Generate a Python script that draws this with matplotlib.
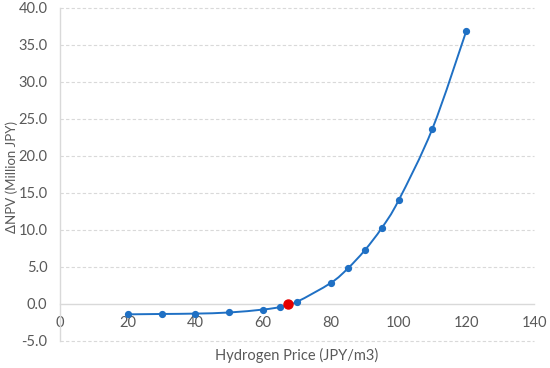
import matplotlib
matplotlib.use('Agg')
import matplotlib.pyplot as plt
import numpy as np
from matplotlib.path import Path
from matplotlib.patches import PathPatch

# data
price = [20, 30, 40, 50, 60, 65, 70, 80, 85, 90, 95, 100, 110, 120]
delta_npv = [-1.4, -1.35, -1.3, -1.15, -0.75, -0.4, 0.3, 2.85, 4.8, 7.25, 10.25, 14.0, 23.7, 36.9]
breakeven_price = [67.4]
breakeven_npv = [0.0]

x_ticks = [0, 20, 40, 60, 80, 100, 120, 140]
y_ticks = [-5, 0, 5, 10, 15, 20, 25, 30, 35, 40]

BLUE = '#1f70c4'
GRAY = '#595959'
GRID = '#d9d9d9'


def smooth_path(xs, ys):
    # Excel style smoothed line: cubic bezier segments through each point
    p = np.column_stack([xs, ys]).astype(float)
    ext = np.vstack([p[0], p, p[-1]])
    verts = [p[0]]
    codes = [Path.MOVETO]
    for i in range(1, len(ext) - 2):
        c1 = ext[i] + (ext[i + 1] - ext[i - 1]) / 6
        c2 = ext[i + 1] - (ext[i + 2] - ext[i]) / 6
        verts += [c1, c2, ext[i + 1]]
        codes += [Path.CURVE4] * 3
    return Path(verts, codes)


plt.rcParams['font.family'] = ['Lato', 'DejaVu Sans']

fig = plt.figure(figsize=(5.5, 3.68), dpi=100)
ax = fig.add_axes([0.109, 0.0734, 0.862, 0.905])

ax.set_xlim(0, 140)
ax.set_ylim(-5, 40)
ax.set_xticks(x_ticks)
ax.set_yticks(y_ticks)
ax.set_yticklabels([f'{v:.1f}' for v in y_ticks])

for v in y_ticks:
    if v != 0:
        ax.axhline(v, color=GRID, lw=0.8, ls=(0, (3, 2)), zorder=0, clip_on=False)

for s in ['top', 'right']:
    ax.spines[s].set_visible(False)
ax.spines['bottom'].set_position(('data', 0))
ax.spines['bottom'].set_color(GRID)
ax.spines['left'].set_color(GRID)
ax.spines['bottom'].set_linewidth(1.0)
ax.spines['left'].set_linewidth(1.0)

ax.tick_params(axis='both', length=0, labelsize=10.5, colors=GRAY)
ax.tick_params(axis='x', pad=9)
ax.tick_params(axis='y', pad=9)

ax.add_patch(PathPatch(smooth_path(price, delta_npv), fill=False, edgecolor=BLUE,
                       lw=1.4, zorder=3))
ax.plot(price, delta_npv, ls='none', marker='o', ms=4.2, color=BLUE, zorder=4)
ax.plot(breakeven_price, breakeven_npv, ls='none', marker='o', ms=6.5, color='#e60000', zorder=5)

fig.text(297 / 550, 1 - 355 / 368, 'Hydrogen Price (JPY/m3)', fontsize=10.5, color=GRAY,
         ha='center', va='center')
fig.text(12 / 550, 1 - 177 / 368, 'ΔNPV (Million JPY)', fontsize=9.5, color=GRAY,
         ha='center', va='center', rotation=90)

fig.savefig('out.png', dpi=100)
